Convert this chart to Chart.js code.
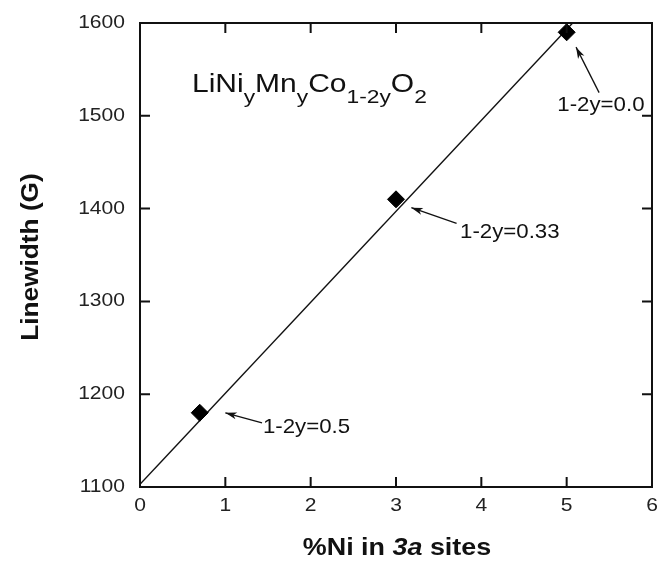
<!DOCTYPE html>
<html>
<head>
<meta charset="utf-8">
<script src="https://cdn.jsdelivr.net/npm/chart.js@4"></script>
<style>
  html, body { margin: 0; padding: 0; background: #fff; }
  #wrap { width: 672px; height: 564px; }
</style>
</head>
<body>
<div id="wrap"><canvas id="lw"></canvas></div>
<script>
/* measured linewidth vs Ni in 3a sites */
const niPct     = [0.7, 3, 5];
const linewidth = [1180, 1410, 1590];
const compLabels = ['1-2y=0.5', '1-2y=0.33', '1-2y=0.0'];

/* straight-line guide, end points */
const fitX = [0, 5.07];
const fitY = [1103, 1600];

const xTicks = [0, 1, 2, 3, 4, 5, 6];
const yTicks = [1100, 1200, 1300, 1400, 1500, 1600];

const FONT = '"Liberation Sans", Arial, sans-serif';
const INK = '#111';

/* arrow tail/tip and label anchor per composition, in data units */
const notes = [
  { tail: [1.43, 1169], tip: [1.00, 1180], text: [1.44, 1164] },
  { tail: [3.71, 1384], tip: [3.18, 1401], text: [3.75, 1375] },
  { tail: [5.38, 1525], tip: [5.11, 1574], text: [4.89, 1511] },
];

// Helvetica-like text, slightly widened
function wideText(ctx, str, x, y, align, sx) {
  const w = ctx.measureText(str).width * sx;
  let left = x;
  if (align === 'center') left = x - w / 2;
  else if (align === 'right') left = x - w;
  ctx.save();
  ctx.textAlign = 'left';
  ctx.translate(left, y);
  ctx.scale(sx, 1);
  ctx.fillText(str, 0, 0);
  ctx.restore();
  return w;
}

const framePlugin = {
  id: 'frame',
  afterDatasetsDraw(chart) {
    const { ctx, chartArea: a, scales: { x, y } } = chart;
    ctx.save();
    ctx.strokeStyle = INK;
    ctx.fillStyle = INK;
    ctx.lineWidth = 2;
    ctx.strokeRect(a.left, a.top, a.right - a.left, a.bottom - a.top);

    // inward ticks on all four sides
    const len = 10;
    ctx.beginPath();
    x.ticks.forEach(t => {
      const px = x.getPixelForValue(t.value);
      ctx.moveTo(px, a.bottom); ctx.lineTo(px, a.bottom - len);
      ctx.moveTo(px, a.top);    ctx.lineTo(px, a.top + len);
    });
    y.ticks.forEach(t => {
      const py = y.getPixelForValue(t.value);
      ctx.moveTo(a.left, py);  ctx.lineTo(a.left + len, py);
      ctx.moveTo(a.right, py); ctx.lineTo(a.right - len, py);
    });
    ctx.stroke();

    // tick labels
    ctx.fillStyle = '#222';
    ctx.font = '18px ' + FONT;
    ctx.textBaseline = 'middle';
    y.ticks.forEach(t => wideText(ctx, String(t.value), a.left - 15, y.getPixelForValue(t.value), 'right', 1.17));
    x.ticks.forEach(t => wideText(ctx, String(t.value), x.getPixelForValue(t.value), a.bottom + 19, 'center', 1.17));

    // composition labels with arrows
    ctx.fillStyle = INK;
    ctx.font = '21px ' + FONT;
    notes.forEach((n, i) => {
      const tx = x.getPixelForValue(n.tail[0]), ty = y.getPixelForValue(n.tail[1]);
      const hx = x.getPixelForValue(n.tip[0]),  hy = y.getPixelForValue(n.tip[1]);
      ctx.lineWidth = 1.3;
      ctx.beginPath(); ctx.moveTo(tx, ty); ctx.lineTo(hx, hy); ctx.stroke();
      const ang = Math.atan2(hy - ty, hx - tx);
      const h = 12, w = 0.3;
      ctx.beginPath();
      ctx.moveTo(hx, hy);
      ctx.lineTo(hx - h * Math.cos(ang - w), hy - h * Math.sin(ang - w));
      ctx.lineTo(hx - h * 0.7 * Math.cos(ang), hy - h * 0.7 * Math.sin(ang));
      ctx.lineTo(hx - h * Math.cos(ang + w), hy - h * Math.sin(ang + w));
      ctx.closePath();
      ctx.fill();
      wideText(ctx, compLabels[i], x.getPixelForValue(n.text[0]), y.getPixelForValue(n.text[1]), 'left', 1.06);
    });

    // formula with subscripts
    const parts = [['LiNi', 0], ['y', 1], ['Mn', 0], ['y', 1], ['Co', 0], ['1-2y', 1], ['O', 0], ['2', 1]];
    let cx = 192;
    const base = 92;
    ctx.textBaseline = 'alphabetic';
    parts.forEach(([s, sub]) => {
      ctx.font = (sub ? '19px ' : '25px ') + FONT;
      cx += wideText(ctx, s, cx, sub ? base + 11 : base, 'left', 1.2);
    });

    // axis titles
    ctx.font = 'bold 23px ' + FONT;
    ctx.textBaseline = 'middle';
    ctx.save();
    ctx.translate(32, (a.top + a.bottom) / 2 + 2);
    ctx.rotate(-Math.PI / 2);
    wideText(ctx, 'Linewidth (G)', 0, 0, 'center', 1.14);
    ctx.restore();

    const segs = [['%Ni in ', 'bold'], ['3a', 'bold italic'], [' sites', 'bold']];
    const sx = 1.17;
    let total = 0;
    segs.forEach(([s, f]) => { ctx.font = f + ' 23px ' + FONT; total += ctx.measureText(s).width * sx; });
    let px = 397 - total / 2;
    ctx.textBaseline = 'alphabetic';
    segs.forEach(([s, f]) => {
      ctx.font = f + ' 23px ' + FONT;
      px += wideText(ctx, s, px, 555, 'left', sx);
    });
    ctx.restore();
  }
};

new Chart(document.getElementById('lw'), {
  type: 'scatter',
  data: {
    datasets: [
      {
        label: 'fit',
        data: fitX.map((v, i) => ({ x: v, y: fitY[i] })),
        showLine: true,
        borderColor: INK,
        borderWidth: 1.4,
        pointRadius: 0,
        order: 2,
      },
      {
        label: 'linewidth',
        data: niPct.map((v, i) => ({ x: v, y: linewidth[i] })),
        pointStyle: 'rectRot',
        pointRadius: 8.5,
        backgroundColor: '#000',
        borderColor: '#000',
        borderWidth: 1,
        order: 1,
      },
    ],
  },
  options: {
    responsive: true,
    maintainAspectRatio: false,
    animation: false,
    events: [],
    layout: { padding: { top: 23, right: 20, left: 0, bottom: 0 } },
    plugins: { legend: { display: false }, tooltip: { enabled: false } },
    scales: {
      x: {
        type: 'linear', min: 0, max: 6,
        afterFit: s => { s.height = 77; },
        afterBuildTicks: s => { s.ticks = xTicks.map(v => ({ value: v })); },
        grid: { display: false, drawTicks: false },
        border: { display: false },
        ticks: { display: false },
      },
      y: {
        type: 'linear', min: 1100, max: 1600,
        afterFit: s => { s.width = 140; },
        afterBuildTicks: s => { s.ticks = yTicks.map(v => ({ value: v })); },
        grid: { display: false, drawTicks: false },
        border: { display: false },
        ticks: { display: false },
      },
    },
  },
  plugins: [framePlugin],
});
</script>
</body>
</html>
